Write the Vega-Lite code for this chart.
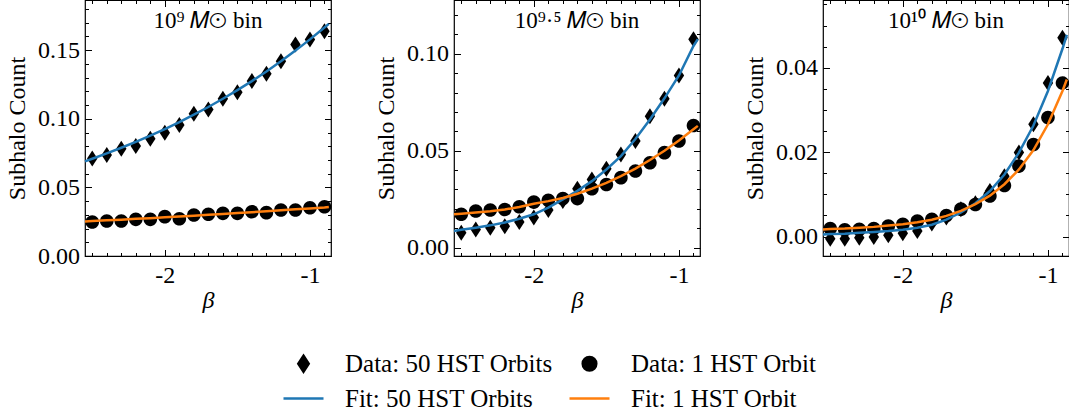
{
  "$schema": "https://vega.github.io/schema/vega-lite/v6.json",
  "autosize": {"type": "pad"},
  "padding": {"left": 4, "top": -2, "right": 0, "bottom": 0},
  "background": "white",
  "spacing": 123,
  "bounds": "flush",
  "config": {
    "font": "Liberation Serif",
    "view": {"stroke": "black", "strokeWidth": 1.2},
    "axis": {
      "domain": false, "grid": false,
      "labelFont": "Liberation Serif", "labelFontSize": 24, "labelColor": "black",
      "titleFont": "Liberation Serif", "titleFontSize": 24, "titleFontWeight": "normal", "titleColor": "black",
      "tickColor": "black", "tickWidth": 1,
      "labelFlush": false, "labelOverlap": false, "labelBound": false
    },
    "title": {"font": "Liberation Serif", "fontSize": 23, "fontWeight": "normal", "color": "black", "anchor": "middle", "offset": -33, "baseline": "alphabetic"},
    "legend": {
      "orient": "none", "legendX": 197, "legendY": 342, "columns": 2, "padding": 0,
      "symbolSize": 1600, "labelFont": "Liberation Serif", "labelFontSize": 25, "labelColor": "black", "labelLimit": 500,
      "labelOffset": 20, "columnPadding": 11, "rowPadding": -9, "symbolStrokeWidth": 2.5, "title": null
    }
  },
  "datasets": {
    "pts": [
      {"panel":1,"series":"Data: 50 HST Orbits","beta":-2.5,"count":0.0711},
      {"panel":1,"series":"Data: 50 HST Orbits","beta":-2.4,"count":0.0736},
      {"panel":1,"series":"Data: 50 HST Orbits","beta":-2.3,"count":0.0782},
      {"panel":1,"series":"Data: 50 HST Orbits","beta":-2.2,"count":0.0801},
      {"panel":1,"series":"Data: 50 HST Orbits","beta":-2.1,"count":0.0855},
      {"panel":1,"series":"Data: 50 HST Orbits","beta":-2.0,"count":0.0899},
      {"panel":1,"series":"Data: 50 HST Orbits","beta":-1.9,"count":0.0954},
      {"panel":1,"series":"Data: 50 HST Orbits","beta":-1.8,"count":0.1037},
      {"panel":1,"series":"Data: 50 HST Orbits","beta":-1.7,"count":0.1068},
      {"panel":1,"series":"Data: 50 HST Orbits","beta":-1.6,"count":0.1146},
      {"panel":1,"series":"Data: 50 HST Orbits","beta":-1.5,"count":0.1194},
      {"panel":1,"series":"Data: 50 HST Orbits","beta":-1.4,"count":0.1275},
      {"panel":1,"series":"Data: 50 HST Orbits","beta":-1.3,"count":0.1328},
      {"panel":1,"series":"Data: 50 HST Orbits","beta":-1.2,"count":0.1420},
      {"panel":1,"series":"Data: 50 HST Orbits","beta":-1.1,"count":0.1542},
      {"panel":1,"series":"Data: 50 HST Orbits","beta":-1.0,"count":0.1578},
      {"panel":1,"series":"Data: 50 HST Orbits","beta":-0.9,"count":0.1639},
      {"panel":1,"series":"Data: 1 HST Orbit","beta":-2.5,"count":0.0248},
      {"panel":1,"series":"Data: 1 HST Orbit","beta":-2.4,"count":0.0255},
      {"panel":1,"series":"Data: 1 HST Orbit","beta":-2.3,"count":0.0255},
      {"panel":1,"series":"Data: 1 HST Orbit","beta":-2.2,"count":0.0267},
      {"panel":1,"series":"Data: 1 HST Orbit","beta":-2.1,"count":0.0267},
      {"panel":1,"series":"Data: 1 HST Orbit","beta":-2.0,"count":0.0287},
      {"panel":1,"series":"Data: 1 HST Orbit","beta":-1.9,"count":0.0272},
      {"panel":1,"series":"Data: 1 HST Orbit","beta":-1.8,"count":0.0299},
      {"panel":1,"series":"Data: 1 HST Orbit","beta":-1.7,"count":0.0304},
      {"panel":1,"series":"Data: 1 HST Orbit","beta":-1.6,"count":0.0311},
      {"panel":1,"series":"Data: 1 HST Orbit","beta":-1.5,"count":0.0311},
      {"panel":1,"series":"Data: 1 HST Orbit","beta":-1.4,"count":0.0323},
      {"panel":1,"series":"Data: 1 HST Orbit","beta":-1.3,"count":0.0316},
      {"panel":1,"series":"Data: 1 HST Orbit","beta":-1.2,"count":0.0335},
      {"panel":1,"series":"Data: 1 HST Orbit","beta":-1.1,"count":0.0335},
      {"panel":1,"series":"Data: 1 HST Orbit","beta":-1.0,"count":0.0352},
      {"panel":1,"series":"Data: 1 HST Orbit","beta":-0.9,"count":0.0359},
      {"panel":2,"series":"Data: 50 HST Orbits","beta":-2.5,"count":0.0077},
      {"panel":2,"series":"Data: 50 HST Orbits","beta":-2.4,"count":0.0094},
      {"panel":2,"series":"Data: 50 HST Orbits","beta":-2.3,"count":0.0103},
      {"panel":2,"series":"Data: 50 HST Orbits","beta":-2.2,"count":0.0111},
      {"panel":2,"series":"Data: 50 HST Orbits","beta":-2.1,"count":0.0132},
      {"panel":2,"series":"Data: 50 HST Orbits","beta":-2.0,"count":0.0155},
      {"panel":2,"series":"Data: 50 HST Orbits","beta":-1.9,"count":0.0194},
      {"panel":2,"series":"Data: 50 HST Orbits","beta":-1.8,"count":0.0240},
      {"panel":2,"series":"Data: 50 HST Orbits","beta":-1.7,"count":0.0304},
      {"panel":2,"series":"Data: 50 HST Orbits","beta":-1.6,"count":0.0352},
      {"panel":2,"series":"Data: 50 HST Orbits","beta":-1.5,"count":0.0407},
      {"panel":2,"series":"Data: 50 HST Orbits","beta":-1.4,"count":0.0481},
      {"panel":2,"series":"Data: 50 HST Orbits","beta":-1.3,"count":0.0550},
      {"panel":2,"series":"Data: 50 HST Orbits","beta":-1.2,"count":0.0678},
      {"panel":2,"series":"Data: 50 HST Orbits","beta":-1.1,"count":0.0768},
      {"panel":2,"series":"Data: 50 HST Orbits","beta":-1.0,"count":0.0888},
      {"panel":2,"series":"Data: 50 HST Orbits","beta":-0.9,"count":0.1074},
      {"panel":2,"series":"Data: 1 HST Orbit","beta":-2.5,"count":0.0172},
      {"panel":2,"series":"Data: 1 HST Orbit","beta":-2.4,"count":0.0189},
      {"panel":2,"series":"Data: 1 HST Orbit","beta":-2.3,"count":0.0194},
      {"panel":2,"series":"Data: 1 HST Orbit","beta":-2.2,"count":0.0197},
      {"panel":2,"series":"Data: 1 HST Orbit","beta":-2.1,"count":0.0211},
      {"panel":2,"series":"Data: 1 HST Orbit","beta":-2.0,"count":0.0235},
      {"panel":2,"series":"Data: 1 HST Orbit","beta":-1.9,"count":0.0244},
      {"panel":2,"series":"Data: 1 HST Orbit","beta":-1.8,"count":0.0253},
      {"panel":2,"series":"Data: 1 HST Orbit","beta":-1.7,"count":0.0253},
      {"panel":2,"series":"Data: 1 HST Orbit","beta":-1.6,"count":0.0304},
      {"panel":2,"series":"Data: 1 HST Orbit","beta":-1.5,"count":0.0326},
      {"panel":2,"series":"Data: 1 HST Orbit","beta":-1.4,"count":0.0361},
      {"panel":2,"series":"Data: 1 HST Orbit","beta":-1.3,"count":0.0395},
      {"panel":2,"series":"Data: 1 HST Orbit","beta":-1.2,"count":0.0438},
      {"panel":2,"series":"Data: 1 HST Orbit","beta":-1.1,"count":0.0490},
      {"panel":2,"series":"Data: 1 HST Orbit","beta":-1.0,"count":0.0550},
      {"panel":2,"series":"Data: 1 HST Orbit","beta":-0.9,"count":0.0630},
      {"panel":3,"series":"Data: 50 HST Orbits","beta":-2.5,"count":-0.0005},
      {"panel":3,"series":"Data: 50 HST Orbits","beta":-2.4,"count":-0.0005},
      {"panel":3,"series":"Data: 50 HST Orbits","beta":-2.3,"count":-0.0003},
      {"panel":3,"series":"Data: 50 HST Orbits","beta":-2.2,"count":-0.0001},
      {"panel":3,"series":"Data: 50 HST Orbits","beta":-2.1,"count":0.0003},
      {"panel":3,"series":"Data: 50 HST Orbits","beta":-2.0,"count":0.0008},
      {"panel":3,"series":"Data: 50 HST Orbits","beta":-1.9,"count":0.0013},
      {"panel":3,"series":"Data: 50 HST Orbits","beta":-1.8,"count":0.0031},
      {"panel":3,"series":"Data: 50 HST Orbits","beta":-1.7,"count":0.0045},
      {"panel":3,"series":"Data: 50 HST Orbits","beta":-1.6,"count":0.0065},
      {"panel":3,"series":"Data: 50 HST Orbits","beta":-1.5,"count":0.0079},
      {"panel":3,"series":"Data: 50 HST Orbits","beta":-1.4,"count":0.0108},
      {"panel":3,"series":"Data: 50 HST Orbits","beta":-1.3,"count":0.0143},
      {"panel":3,"series":"Data: 50 HST Orbits","beta":-1.2,"count":0.0199},
      {"panel":3,"series":"Data: 50 HST Orbits","beta":-1.1,"count":0.0266},
      {"panel":3,"series":"Data: 50 HST Orbits","beta":-1.0,"count":0.0364},
      {"panel":3,"series":"Data: 50 HST Orbits","beta":-0.9,"count":0.0471},
      {"panel":3,"series":"Data: 1 HST Orbit","beta":-2.5,"count":0.0019},
      {"panel":3,"series":"Data: 1 HST Orbit","beta":-2.4,"count":0.0016},
      {"panel":3,"series":"Data: 1 HST Orbit","beta":-2.3,"count":0.0017},
      {"panel":3,"series":"Data: 1 HST Orbit","beta":-2.2,"count":0.0019},
      {"panel":3,"series":"Data: 1 HST Orbit","beta":-2.1,"count":0.0025},
      {"panel":3,"series":"Data: 1 HST Orbit","beta":-2.0,"count":0.0029},
      {"panel":3,"series":"Data: 1 HST Orbit","beta":-1.9,"count":0.0037},
      {"panel":3,"series":"Data: 1 HST Orbit","beta":-1.8,"count":0.0041},
      {"panel":3,"series":"Data: 1 HST Orbit","beta":-1.7,"count":0.0050},
      {"panel":3,"series":"Data: 1 HST Orbit","beta":-1.6,"count":0.0065},
      {"panel":3,"series":"Data: 1 HST Orbit","beta":-1.5,"count":0.0076},
      {"panel":3,"series":"Data: 1 HST Orbit","beta":-1.4,"count":0.0096},
      {"panel":3,"series":"Data: 1 HST Orbit","beta":-1.3,"count":0.0121},
      {"panel":3,"series":"Data: 1 HST Orbit","beta":-1.2,"count":0.0167},
      {"panel":3,"series":"Data: 1 HST Orbit","beta":-1.1,"count":0.0218},
      {"panel":3,"series":"Data: 1 HST Orbit","beta":-1.0,"count":0.0282},
      {"panel":3,"series":"Data: 1 HST Orbit","beta":-0.9,"count":0.0364}
    ],
    "fit": [
      {"panel":1,"series":"Fit: 50 HST Orbits","beta":-2.55,"count":0.0690},
      {"panel":1,"series":"Fit: 50 HST Orbits","beta":-2.5,"count":0.0709},
      {"panel":1,"series":"Fit: 50 HST Orbits","beta":-2.4,"count":0.0748},
      {"panel":1,"series":"Fit: 50 HST Orbits","beta":-2.3,"count":0.0789},
      {"panel":1,"series":"Fit: 50 HST Orbits","beta":-2.2,"count":0.0832},
      {"panel":1,"series":"Fit: 50 HST Orbits","beta":-2.1,"count":0.0878},
      {"panel":1,"series":"Fit: 50 HST Orbits","beta":-2.0,"count":0.0925},
      {"panel":1,"series":"Fit: 50 HST Orbits","beta":-1.9,"count":0.0976},
      {"panel":1,"series":"Fit: 50 HST Orbits","beta":-1.8,"count":0.1030},
      {"panel":1,"series":"Fit: 50 HST Orbits","beta":-1.7,"count":0.1086},
      {"panel":1,"series":"Fit: 50 HST Orbits","beta":-1.6,"count":0.1146},
      {"panel":1,"series":"Fit: 50 HST Orbits","beta":-1.5,"count":0.1209},
      {"panel":1,"series":"Fit: 50 HST Orbits","beta":-1.4,"count":0.1275},
      {"panel":1,"series":"Fit: 50 HST Orbits","beta":-1.3,"count":0.1345},
      {"panel":1,"series":"Fit: 50 HST Orbits","beta":-1.2,"count":0.1419},
      {"panel":1,"series":"Fit: 50 HST Orbits","beta":-1.1,"count":0.1497},
      {"panel":1,"series":"Fit: 50 HST Orbits","beta":-1.0,"count":0.1579},
      {"panel":1,"series":"Fit: 50 HST Orbits","beta":-0.9,"count":0.1665},
      {"panel":1,"series":"Fit: 50 HST Orbits","beta":-0.87,"count":0.1692},
      {"panel":1,"series":"Fit: 1 HST Orbit","beta":-2.55,"count":0.0252},
      {"panel":1,"series":"Fit: 1 HST Orbit","beta":-2.5,"count":0.0255},
      {"panel":1,"series":"Fit: 1 HST Orbit","beta":-2.4,"count":0.0260},
      {"panel":1,"series":"Fit: 1 HST Orbit","beta":-2.3,"count":0.0265},
      {"panel":1,"series":"Fit: 1 HST Orbit","beta":-2.2,"count":0.0271},
      {"panel":1,"series":"Fit: 1 HST Orbit","beta":-2.1,"count":0.0276},
      {"panel":1,"series":"Fit: 1 HST Orbit","beta":-2.0,"count":0.0282},
      {"panel":1,"series":"Fit: 1 HST Orbit","beta":-1.9,"count":0.0288},
      {"panel":1,"series":"Fit: 1 HST Orbit","beta":-1.8,"count":0.0294},
      {"panel":1,"series":"Fit: 1 HST Orbit","beta":-1.7,"count":0.0300},
      {"panel":1,"series":"Fit: 1 HST Orbit","beta":-1.6,"count":0.0306},
      {"panel":1,"series":"Fit: 1 HST Orbit","beta":-1.5,"count":0.0313},
      {"panel":1,"series":"Fit: 1 HST Orbit","beta":-1.4,"count":0.0319},
      {"panel":1,"series":"Fit: 1 HST Orbit","beta":-1.3,"count":0.0326},
      {"panel":1,"series":"Fit: 1 HST Orbit","beta":-1.2,"count":0.0333},
      {"panel":1,"series":"Fit: 1 HST Orbit","beta":-1.1,"count":0.0340},
      {"panel":1,"series":"Fit: 1 HST Orbit","beta":-1.0,"count":0.0347},
      {"panel":1,"series":"Fit: 1 HST Orbit","beta":-0.9,"count":0.0354},
      {"panel":1,"series":"Fit: 1 HST Orbit","beta":-0.87,"count":0.0357},
      {"panel":2,"series":"Fit: 50 HST Orbits","beta":-2.55,"count":0.0086},
      {"panel":2,"series":"Fit: 50 HST Orbits","beta":-2.5,"count":0.0092},
      {"panel":2,"series":"Fit: 50 HST Orbits","beta":-2.4,"count":0.0103},
      {"panel":2,"series":"Fit: 50 HST Orbits","beta":-2.3,"count":0.0115},
      {"panel":2,"series":"Fit: 50 HST Orbits","beta":-2.2,"count":0.0130},
      {"panel":2,"series":"Fit: 50 HST Orbits","beta":-2.1,"count":0.0149},
      {"panel":2,"series":"Fit: 50 HST Orbits","beta":-2.0,"count":0.0172},
      {"panel":2,"series":"Fit: 50 HST Orbits","beta":-1.9,"count":0.0207},
      {"panel":2,"series":"Fit: 50 HST Orbits","beta":-1.8,"count":0.0249},
      {"panel":2,"series":"Fit: 50 HST Orbits","beta":-1.7,"count":0.0293},
      {"panel":2,"series":"Fit: 50 HST Orbits","beta":-1.6,"count":0.0343},
      {"panel":2,"series":"Fit: 50 HST Orbits","beta":-1.5,"count":0.0403},
      {"panel":2,"series":"Fit: 50 HST Orbits","beta":-1.4,"count":0.0472},
      {"panel":2,"series":"Fit: 50 HST Orbits","beta":-1.3,"count":0.0560},
      {"panel":2,"series":"Fit: 50 HST Orbits","beta":-1.2,"count":0.0661},
      {"panel":2,"series":"Fit: 50 HST Orbits","beta":-1.1,"count":0.0770},
      {"panel":2,"series":"Fit: 50 HST Orbits","beta":-1.0,"count":0.0888},
      {"panel":2,"series":"Fit: 50 HST Orbits","beta":-0.9,"count":0.1040},
      {"panel":2,"series":"Fit: 50 HST Orbits","beta":-0.87,"count":0.1075},
      {"panel":2,"series":"Fit: 1 HST Orbit","beta":-2.55,"count":0.0172},
      {"panel":2,"series":"Fit: 1 HST Orbit","beta":-2.5,"count":0.0175},
      {"panel":2,"series":"Fit: 1 HST Orbit","beta":-2.4,"count":0.0181},
      {"panel":2,"series":"Fit: 1 HST Orbit","beta":-2.3,"count":0.0188},
      {"panel":2,"series":"Fit: 1 HST Orbit","beta":-2.2,"count":0.0197},
      {"panel":2,"series":"Fit: 1 HST Orbit","beta":-2.1,"count":0.0210},
      {"panel":2,"series":"Fit: 1 HST Orbit","beta":-2.0,"count":0.0226},
      {"panel":2,"series":"Fit: 1 HST Orbit","beta":-1.9,"count":0.0240},
      {"panel":2,"series":"Fit: 1 HST Orbit","beta":-1.8,"count":0.0256},
      {"panel":2,"series":"Fit: 1 HST Orbit","beta":-1.7,"count":0.0278},
      {"panel":2,"series":"Fit: 1 HST Orbit","beta":-1.6,"count":0.0304},
      {"panel":2,"series":"Fit: 1 HST Orbit","beta":-1.5,"count":0.0334},
      {"panel":2,"series":"Fit: 1 HST Orbit","beta":-1.4,"count":0.0369},
      {"panel":2,"series":"Fit: 1 HST Orbit","beta":-1.3,"count":0.0408},
      {"panel":2,"series":"Fit: 1 HST Orbit","beta":-1.2,"count":0.0452},
      {"panel":2,"series":"Fit: 1 HST Orbit","beta":-1.1,"count":0.0500},
      {"panel":2,"series":"Fit: 1 HST Orbit","beta":-1.0,"count":0.0552},
      {"panel":2,"series":"Fit: 1 HST Orbit","beta":-0.9,"count":0.0610},
      {"panel":2,"series":"Fit: 1 HST Orbit","beta":-0.87,"count":0.0628},
      {"panel":3,"series":"Fit: 50 HST Orbits","beta":-2.55,"count":0.0005},
      {"panel":3,"series":"Fit: 50 HST Orbits","beta":-2.5,"count":0.0006},
      {"panel":3,"series":"Fit: 50 HST Orbits","beta":-2.4,"count":0.0007},
      {"panel":3,"series":"Fit: 50 HST Orbits","beta":-2.3,"count":0.0009},
      {"panel":3,"series":"Fit: 50 HST Orbits","beta":-2.2,"count":0.0011},
      {"panel":3,"series":"Fit: 50 HST Orbits","beta":-2.1,"count":0.0013},
      {"panel":3,"series":"Fit: 50 HST Orbits","beta":-2.0,"count":0.0016},
      {"panel":3,"series":"Fit: 50 HST Orbits","beta":-1.9,"count":0.0021},
      {"panel":3,"series":"Fit: 50 HST Orbits","beta":-1.8,"count":0.0028},
      {"panel":3,"series":"Fit: 50 HST Orbits","beta":-1.7,"count":0.0040},
      {"panel":3,"series":"Fit: 50 HST Orbits","beta":-1.6,"count":0.0057},
      {"panel":3,"series":"Fit: 50 HST Orbits","beta":-1.5,"count":0.0079},
      {"panel":3,"series":"Fit: 50 HST Orbits","beta":-1.4,"count":0.0108},
      {"panel":3,"series":"Fit: 50 HST Orbits","beta":-1.3,"count":0.0147},
      {"panel":3,"series":"Fit: 50 HST Orbits","beta":-1.2,"count":0.0199},
      {"panel":3,"series":"Fit: 50 HST Orbits","beta":-1.1,"count":0.0263},
      {"panel":3,"series":"Fit: 50 HST Orbits","beta":-1.0,"count":0.0345},
      {"panel":3,"series":"Fit: 50 HST Orbits","beta":-0.9,"count":0.0445},
      {"panel":3,"series":"Fit: 50 HST Orbits","beta":-0.87,"count":0.0478},
      {"panel":3,"series":"Fit: 1 HST Orbit","beta":-2.55,"count":0.0017},
      {"panel":3,"series":"Fit: 1 HST Orbit","beta":-2.5,"count":0.0018},
      {"panel":3,"series":"Fit: 1 HST Orbit","beta":-2.4,"count":0.0019},
      {"panel":3,"series":"Fit: 1 HST Orbit","beta":-2.3,"count":0.0021},
      {"panel":3,"series":"Fit: 1 HST Orbit","beta":-2.2,"count":0.0023},
      {"panel":3,"series":"Fit: 1 HST Orbit","beta":-2.1,"count":0.0026},
      {"panel":3,"series":"Fit: 1 HST Orbit","beta":-2.0,"count":0.0029},
      {"panel":3,"series":"Fit: 1 HST Orbit","beta":-1.9,"count":0.0034},
      {"panel":3,"series":"Fit: 1 HST Orbit","beta":-1.8,"count":0.0040},
      {"panel":3,"series":"Fit: 1 HST Orbit","beta":-1.7,"count":0.0049},
      {"panel":3,"series":"Fit: 1 HST Orbit","beta":-1.6,"count":0.0061},
      {"panel":3,"series":"Fit: 1 HST Orbit","beta":-1.5,"count":0.0077},
      {"panel":3,"series":"Fit: 1 HST Orbit","beta":-1.4,"count":0.0097},
      {"panel":3,"series":"Fit: 1 HST Orbit","beta":-1.3,"count":0.0124},
      {"panel":3,"series":"Fit: 1 HST Orbit","beta":-1.2,"count":0.0159},
      {"panel":3,"series":"Fit: 1 HST Orbit","beta":-1.1,"count":0.0205},
      {"panel":3,"series":"Fit: 1 HST Orbit","beta":-1.0,"count":0.0266},
      {"panel":3,"series":"Fit: 1 HST Orbit","beta":-0.9,"count":0.0345},
      {"panel":3,"series":"Fit: 1 HST Orbit","beta":-0.87,"count":0.0372}
    ]
  },
  "hconcat": [
    {
      "width": 246, "height": 256,
      "title": {"text": "10⁹ 𝑀⊙ bin"},
      "layer": [
        {
          "data": {"name": "pts"},
          "transform": [{"filter": "datum.panel == 1"}],
          "mark": {"type": "point", "filled": true, "opacity": 1, "size": 1600},
          "encoding": {
            "x": {"field": "beta", "type": "quantitative", "scale": {"domain": [-2.55, -0.855], "zero": false, "nice": false},
              "axis": {"orient": "bottom", "title": "β", "titleFontStyle": "italic", "titlePadding": 1, "labelPadding": 14,
                "values": [-2.5,-2.4,-2.3,-2.2,-2.1,-2,-1.9,-1.8,-1.7,-1.6,-1.5,-1.4,-1.3,-1.2,-1.1,-1,-0.9],
                "labelExpr": "datum.value == -2 ? '-2' : datum.value == -1 ? '-1' : ''",
                "labelFontSize": {"condition": {"test": "datum.value == -2 || datum.value == -1", "value": 24}, "value": 1},
                "tickSize": {"condition": {"test": "datum.value == -2 || datum.value == -1", "value": -6.5}, "value": -3.5}}},
            "y": {"field": "count", "type": "quantitative", "scale": {"domain": [0, 0.1866], "zero": false, "nice": false},
              "axis": {"orient": "left", "title": "Subhalo Count", "titlePadding": 8, "labelPadding": 12,
                "values": [0,0.01,0.02,0.03,0.04,0.05,0.06,0.07,0.08,0.09,0.1,0.11,0.12,0.13,0.14,0.15,0.16,0.17,0.18],
                "labelExpr": "abs(datum.value/0.05 - round(datum.value/0.05)) < 1e-6 ? format(datum.value, '.2f') : ''",
                "labelFontSize": {"condition": {"test": "abs(datum.value/0.05 - round(datum.value/0.05)) < 1e-6", "value": 24}, "value": 1},
                "tickSize": {"condition": {"test": "abs(datum.value/0.05 - round(datum.value/0.05)) < 1e-6", "value": -6.5}, "value": -3.5}}},
            "shape": {"field": "series", "type": "nominal",
              "scale": {"domain": ["Data: 50 HST Orbits", "Fit: 50 HST Orbits", "Data: 1 HST Orbit", "Fit: 1 HST Orbit"],
                "range": ["M0,-0.4L0.26,0L0,0.4L-0.26,0Z", "stroke", "M0.34,0A0.34,0.34,0,1,1,-0.34,0A0.34,0.34,0,1,1,0.34,0Z", "stroke"]},
              "legend": {"encode": {"symbols": {
                "stroke": {"condition": [{"test": "datum.value == 'Fit: 50 HST Orbits'", "value": "#1f77b4"}, {"test": "datum.value == 'Fit: 1 HST Orbit'", "value": "#ff7f0e"}], "value": "transparent"},
                "strokeWidth": {"value": 2.5}}}}},
            "color": {"field": "series", "type": "nominal",
              "scale": {"domain": ["Data: 50 HST Orbits", "Fit: 50 HST Orbits", "Data: 1 HST Orbit", "Fit: 1 HST Orbit"],
                "range": ["#000000", "#1f77b4", "#000000", "#ff7f0e"]},
              "legend": {"encode": {"symbols": {
                "stroke": {"condition": [{"test": "datum.value == 'Fit: 50 HST Orbits'", "value": "#1f77b4"}, {"test": "datum.value == 'Fit: 1 HST Orbit'", "value": "#ff7f0e"}], "value": "transparent"},
                "strokeWidth": {"value": 2.5}}}}}
          }
        },
        {
          "data": {"name": "fit"},
          "transform": [{"filter": "datum.panel == 1"}],
          "mark": {"type": "line", "strokeWidth": 2.5},
          "encoding": {
            "x": {"field": "beta", "type": "quantitative", "scale": {"domain": [-2.55, -0.855], "zero": false, "nice": false},
              "axis": {"orient": "top", "title": null, "labels": false,
                "values": [-2.5,-2.4,-2.3,-2.2,-2.1,-2,-1.9,-1.8,-1.7,-1.6,-1.5,-1.4,-1.3,-1.2,-1.1,-1,-0.9],
                "tickSize": {"condition": {"test": "datum.value == -2 || datum.value == -1", "value": -6.5}, "value": -3.5}}},
            "y": {"field": "count", "type": "quantitative", "scale": {"domain": [0, 0.1866], "zero": false, "nice": false},
              "axis": {"orient": "right", "title": null, "labels": false,
                "values": [0,0.01,0.02,0.03,0.04,0.05,0.06,0.07,0.08,0.09,0.1,0.11,0.12,0.13,0.14,0.15,0.16,0.17,0.18],
                "tickSize": {"condition": {"test": "abs(datum.value/0.05 - round(datum.value/0.05)) < 1e-6", "value": -6.5}, "value": -3.5}}},
            "color": {"field": "series", "type": "nominal", "legend": null,
              "scale": {"domain": ["Data: 50 HST Orbits", "Fit: 50 HST Orbits", "Data: 1 HST Orbit", "Fit: 1 HST Orbit"],
                "range": ["#000000", "#1f77b4", "#000000", "#ff7f0e"]}}
          }
        }
      ],
      "resolve": {"axis": {"x": "independent", "y": "independent"}}
    },
    {
      "width": 246, "height": 256,
      "title": {"text": "10⁹·⁵ 𝑀⊙ bin"},
      "layer": [
        {
          "data": {"name": "pts"},
          "transform": [{"filter": "datum.panel == 2"}],
          "mark": {"type": "point", "filled": true, "opacity": 1, "size": 1600},
          "encoding": {
            "x": {"field": "beta", "type": "quantitative", "scale": {"domain": [-2.55, -0.855], "zero": false, "nice": false},
              "axis": {"orient": "bottom", "title": "β", "titleFontStyle": "italic", "titlePadding": 1, "labelPadding": 14,
                "values": [-2.5,-2.4,-2.3,-2.2,-2.1,-2,-1.9,-1.8,-1.7,-1.6,-1.5,-1.4,-1.3,-1.2,-1.1,-1,-0.9],
                "labelExpr": "datum.value == -2 ? '-2' : datum.value == -1 ? '-1' : ''",
                "labelFontSize": {"condition": {"test": "datum.value == -2 || datum.value == -1", "value": 24}, "value": 1},
                "tickSize": {"condition": {"test": "datum.value == -2 || datum.value == -1", "value": -6.5}, "value": -3.5}}},
            "y": {"field": "count", "type": "quantitative", "scale": {"domain": [-0.0043, 0.1277], "zero": false, "nice": false},
              "axis": {"orient": "left", "title": "Subhalo Count", "titlePadding": 8, "labelPadding": 12,
                "values": [0,0.01,0.02,0.03,0.04,0.05,0.06,0.07,0.08,0.09,0.1,0.11,0.12],
                "labelExpr": "abs(datum.value/0.05 - round(datum.value/0.05)) < 1e-6 ? format(datum.value, '.2f') : ''",
                "labelFontSize": {"condition": {"test": "abs(datum.value/0.05 - round(datum.value/0.05)) < 1e-6", "value": 24}, "value": 1},
                "tickSize": {"condition": {"test": "abs(datum.value/0.05 - round(datum.value/0.05)) < 1e-6", "value": -6.5}, "value": -3.5}}},
            "shape": {"field": "series", "type": "nominal",
              "scale": {"domain": ["Data: 50 HST Orbits", "Fit: 50 HST Orbits", "Data: 1 HST Orbit", "Fit: 1 HST Orbit"],
                "range": ["M0,-0.4L0.26,0L0,0.4L-0.26,0Z", "stroke", "M0.34,0A0.34,0.34,0,1,1,-0.34,0A0.34,0.34,0,1,1,0.34,0Z", "stroke"]}},
            "color": {"field": "series", "type": "nominal",
              "scale": {"domain": ["Data: 50 HST Orbits", "Fit: 50 HST Orbits", "Data: 1 HST Orbit", "Fit: 1 HST Orbit"],
                "range": ["#000000", "#1f77b4", "#000000", "#ff7f0e"]}}
          }
        },
        {
          "data": {"name": "fit"},
          "transform": [{"filter": "datum.panel == 2"}],
          "mark": {"type": "line", "strokeWidth": 2.5},
          "encoding": {
            "x": {"field": "beta", "type": "quantitative", "scale": {"domain": [-2.55, -0.855], "zero": false, "nice": false},
              "axis": {"orient": "top", "title": null, "labels": false,
                "values": [-2.5,-2.4,-2.3,-2.2,-2.1,-2,-1.9,-1.8,-1.7,-1.6,-1.5,-1.4,-1.3,-1.2,-1.1,-1,-0.9],
                "tickSize": {"condition": {"test": "datum.value == -2 || datum.value == -1", "value": -6.5}, "value": -3.5}}},
            "y": {"field": "count", "type": "quantitative", "scale": {"domain": [-0.0043, 0.1277], "zero": false, "nice": false},
              "axis": {"orient": "right", "title": null, "labels": false,
                "values": [0,0.01,0.02,0.03,0.04,0.05,0.06,0.07,0.08,0.09,0.1,0.11,0.12],
                "tickSize": {"condition": {"test": "abs(datum.value/0.05 - round(datum.value/0.05)) < 1e-6", "value": -6.5}, "value": -3.5}}},
            "color": {"field": "series", "type": "nominal", "legend": null,
              "scale": {"domain": ["Data: 50 HST Orbits", "Fit: 50 HST Orbits", "Data: 1 HST Orbit", "Fit: 1 HST Orbit"],
                "range": ["#000000", "#1f77b4", "#000000", "#ff7f0e"]}}
          }
        }
      ],
      "resolve": {"axis": {"x": "independent", "y": "independent"}}
    },
    {
      "width": 246, "height": 256,
      "title": {"text": "10¹⁰ 𝑀⊙ bin"},
      "layer": [
        {
          "data": {"name": "pts"},
          "transform": [{"filter": "datum.panel == 3"}],
          "mark": {"type": "point", "filled": true, "opacity": 1, "size": 1600},
          "encoding": {
            "x": {"field": "beta", "type": "quantitative", "scale": {"domain": [-2.55, -0.855], "zero": false, "nice": false},
              "axis": {"orient": "bottom", "title": "β", "titleFontStyle": "italic", "titlePadding": 1, "labelPadding": 14,
                "values": [-2.5,-2.4,-2.3,-2.2,-2.1,-2,-1.9,-1.8,-1.7,-1.6,-1.5,-1.4,-1.3,-1.2,-1.1,-1,-0.9],
                "labelExpr": "datum.value == -2 ? '-2' : datum.value == -1 ? '-1' : ''",
                "labelFontSize": {"condition": {"test": "datum.value == -2 || datum.value == -1", "value": 24}, "value": 1},
                "tickSize": {"condition": {"test": "datum.value == -2 || datum.value == -1", "value": -6.5}, "value": -3.5}}},
            "y": {"field": "count", "type": "quantitative", "scale": {"domain": [-0.0046, 0.05605], "zero": false, "nice": false},
              "axis": {"orient": "left", "title": "Subhalo Count", "titlePadding": 8, "labelPadding": 12,
                "values": [0,0.005,0.01,0.015,0.02,0.025,0.03,0.035,0.04,0.045,0.05,0.055],
                "labelExpr": "abs(datum.value/0.02 - round(datum.value/0.02)) < 1e-6 ? format(datum.value, '.2f') : ''",
                "labelFontSize": {"condition": {"test": "abs(datum.value/0.02 - round(datum.value/0.02)) < 1e-6", "value": 24}, "value": 1},
                "tickSize": {"condition": {"test": "abs(datum.value/0.02 - round(datum.value/0.02)) < 1e-6", "value": -6.5}, "value": -3.5}}},
            "shape": {"field": "series", "type": "nominal",
              "scale": {"domain": ["Data: 50 HST Orbits", "Fit: 50 HST Orbits", "Data: 1 HST Orbit", "Fit: 1 HST Orbit"],
                "range": ["M0,-0.4L0.26,0L0,0.4L-0.26,0Z", "stroke", "M0.34,0A0.34,0.34,0,1,1,-0.34,0A0.34,0.34,0,1,1,0.34,0Z", "stroke"]}},
            "color": {"field": "series", "type": "nominal",
              "scale": {"domain": ["Data: 50 HST Orbits", "Fit: 50 HST Orbits", "Data: 1 HST Orbit", "Fit: 1 HST Orbit"],
                "range": ["#000000", "#1f77b4", "#000000", "#ff7f0e"]}}
          }
        },
        {
          "data": {"name": "fit"},
          "transform": [{"filter": "datum.panel == 3"}],
          "mark": {"type": "line", "strokeWidth": 2.5},
          "encoding": {
            "x": {"field": "beta", "type": "quantitative", "scale": {"domain": [-2.55, -0.855], "zero": false, "nice": false},
              "axis": {"orient": "top", "title": null, "labels": false,
                "values": [-2.5,-2.4,-2.3,-2.2,-2.1,-2,-1.9,-1.8,-1.7,-1.6,-1.5,-1.4,-1.3,-1.2,-1.1,-1,-0.9],
                "tickSize": {"condition": {"test": "datum.value == -2 || datum.value == -1", "value": -6.5}, "value": -3.5}}},
            "y": {"field": "count", "type": "quantitative", "scale": {"domain": [-0.0046, 0.05605], "zero": false, "nice": false},
              "axis": {"orient": "right", "title": null, "labels": false,
                "values": [0,0.005,0.01,0.015,0.02,0.025,0.03,0.035,0.04,0.045,0.05,0.055],
                "tickSize": {"condition": {"test": "abs(datum.value/0.02 - round(datum.value/0.02)) < 1e-6", "value": -6.5}, "value": -3.5}}},
            "color": {"field": "series", "type": "nominal", "legend": null,
              "scale": {"domain": ["Data: 50 HST Orbits", "Fit: 50 HST Orbits", "Data: 1 HST Orbit", "Fit: 1 HST Orbit"],
                "range": ["#000000", "#1f77b4", "#000000", "#ff7f0e"]}}
          }
        }
      ],
      "resolve": {"axis": {"x": "independent", "y": "independent"}}
    }
  ]
}
